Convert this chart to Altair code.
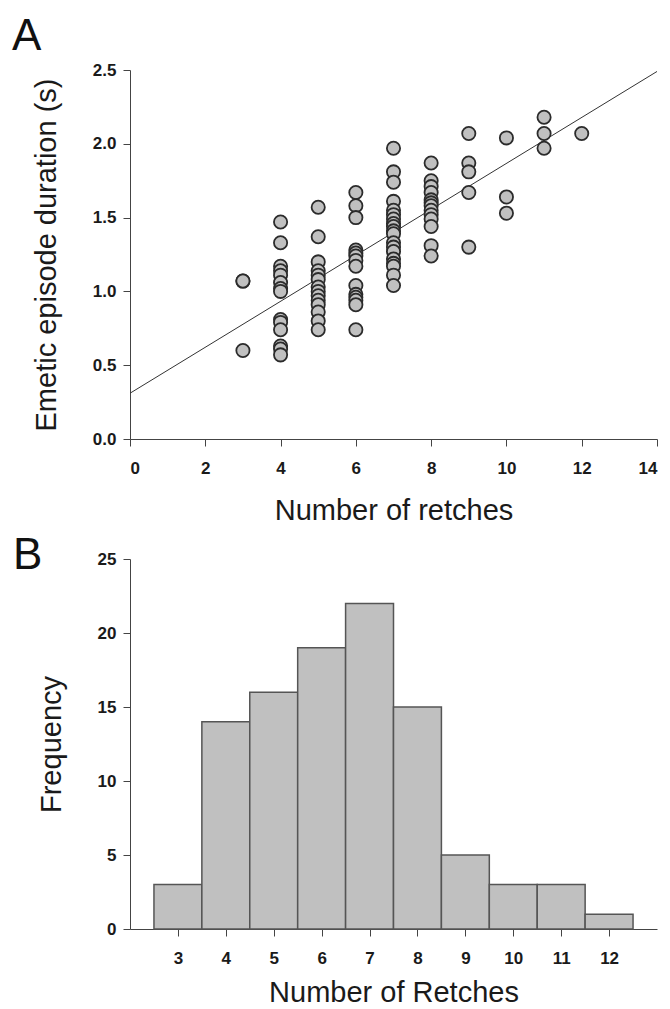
import altair as alt
import pandas as pd

# ---- Panel A: emetic episode duration (s) by number of retches ----
dur_3 = [1.07, 1.07, 0.60]
dur_4 = [1.47, 1.33, 1.17, 1.14, 1.11, 1.06, 1.02, 1.00, 0.81, 0.79, 0.74, 0.63, 0.61, 0.57]
dur_5 = [1.57, 1.37, 1.20, 1.14, 1.11, 1.08, 1.03, 1.00, 0.97, 0.94, 0.91, 0.86, 0.80, 0.74]
dur_6 = [1.67, 1.58, 1.50, 1.28, 1.26, 1.24, 1.21, 1.17, 1.04, 0.98, 0.96, 0.94, 0.91, 0.74]
dur_7 = [1.97, 1.81, 1.74, 1.61, 1.55, 1.52, 1.49, 1.46, 1.44, 1.41, 1.39, 1.33, 1.30,
         1.27, 1.22, 1.19, 1.17, 1.11, 1.04]
dur_8 = [1.87, 1.75, 1.71, 1.67, 1.62, 1.60, 1.58, 1.55, 1.52, 1.49, 1.44, 1.31, 1.24]
dur_9 = [2.07, 1.87, 1.81, 1.67, 1.30]
dur_10 = [2.04, 1.64, 1.53]
dur_11 = [2.18, 2.07, 1.97]
dur_12 = [2.07]

groups = {3: dur_3, 4: dur_4, 5: dur_5, 6: dur_6, 7: dur_7, 8: dur_8,
          9: dur_9, 10: dur_10, 11: dur_11, 12: dur_12}
rows = [{"retches": k, "duration": v} for k, vals in groups.items() for v in vals]
scatter_df = pd.DataFrame(rows)

# regression line
fit_x = [0, 14]
fit_y = [0.31, 2.49]
fit_df = pd.DataFrame({"retches": fit_x, "duration": fit_y})

x_ticks_a = [0, 2, 4, 6, 8, 10, 12, 14]
y_ticks_a = [0.0, 0.5, 1.0, 1.5, 2.0, 2.5]

# ---- Panel B: histogram of number of retches ----
hist_bins = [3, 4, 5, 6, 7, 8, 9, 10, 11, 12]
hist_counts = [3, 14, 16, 19, 22, 15, 5, 3, 3, 1]
hist_df = pd.DataFrame({"retches": hist_bins, "count": hist_counts})
y_ticks_b = [0, 5, 10, 15, 20, 25]

FONT = "Liberation Sans"
TXT = "#1a1a1a"

xA = alt.X("retches:Q", scale=alt.Scale(domain=[0, 14], nice=False, zero=False),
           axis=alt.Axis(values=x_ticks_a, title="Number of retches",
                         labelPadding=14, titlePadding=20))
yA = alt.Y("duration:Q", scale=alt.Scale(domain=[0, 2.5], nice=False),
           axis=alt.Axis(values=y_ticks_a, format=".1f",
                         title="Emetic episode duration (s)",
                         labelPadding=7, titlePadding=31))

line = alt.Chart(fit_df).mark_line(color="#333333", strokeWidth=1).encode(x=xA, y=yA)
points = alt.Chart(scatter_df).mark_circle(
    size=175, color="#c0c0c0", opacity=1, stroke="#2b2b2b", strokeWidth=1.8
).encode(x=xA, y=yA)
label_a = alt.Chart(pd.DataFrame({"label": ["A"]})).mark_text(
    font=FONT, fontSize=44, align="left", baseline="alphabetic", color="#111111"
).encode(x=alt.value(-118), y=alt.value(-20), text="label:N")

panel_a = alt.layer(line, points, label_a).properties(width=527, height=369)

bars = alt.Chart(hist_df).transform_calculate(
    x0="datum.retches - 0.5", x1="datum.retches + 0.5"
).mark_rect(fill="#c0c0c0", stroke="#555555", strokeWidth=1.5).encode(
    x=alt.X("x0:Q", scale=alt.Scale(domain=[2, 13], nice=False, zero=False),
            axis=alt.Axis(values=hist_bins, title="Number of Retches",
                          labelPadding=14, titlePadding=12)),
    x2="x1:Q",
    y=alt.Y("count:Q", scale=alt.Scale(domain=[0, 25], nice=False),
            axis=alt.Axis(values=y_ticks_b, title="Frequency",
                          labelPadding=7, titlePadding=31)),
    y2=alt.datum(0),
)
label_b = alt.Chart(pd.DataFrame({"label": ["B"]})).mark_text(
    font=FONT, fontSize=44, align="left", baseline="alphabetic", color="#111111"
).encode(x=alt.value(-117), y=alt.value(10), text="label:N")

panel_b = alt.layer(bars, label_b).properties(width=527, height=370)

chart = alt.vconcat(panel_a, panel_b, spacing=9).properties(
    padding={"left": 4, "top": 7, "right": 0, "bottom": 0}
).configure_axis(
    labelFont=FONT, labelFontWeight="bold", labelFontSize=17, labelColor=TXT,
    titleFont=FONT, titleFontWeight="normal", titleFontSize=29, titleColor=TXT,
    domainColor="#444444", tickColor="#444444", tickSize=7, grid=False,
).configure_view(strokeWidth=0)

chart.save("out.html", embed_options={"renderer": "svg", "actions": False})
